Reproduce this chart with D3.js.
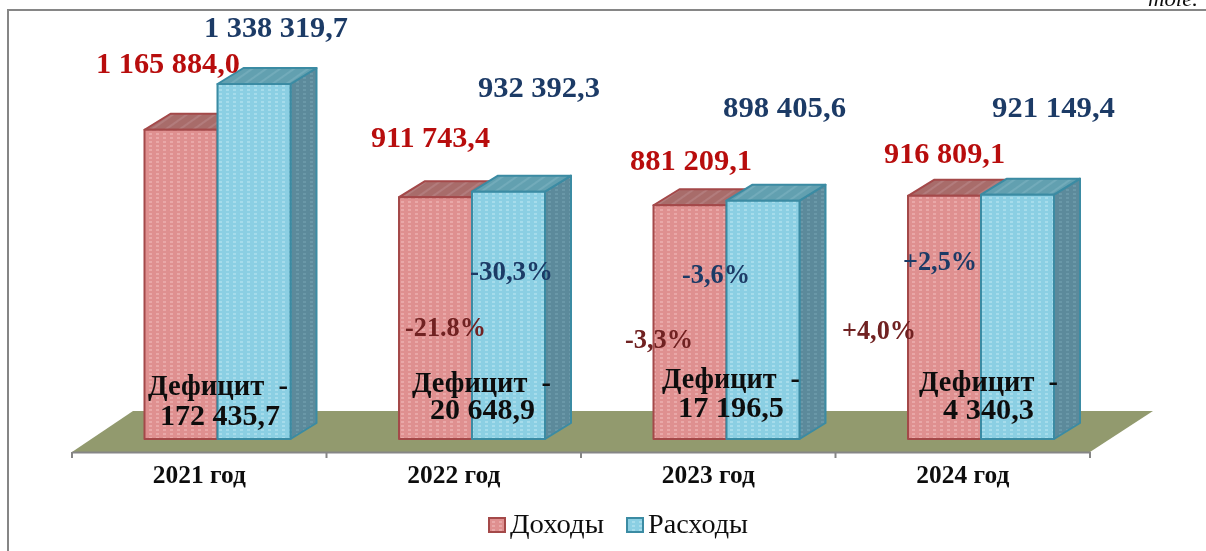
<!DOCTYPE html>
<html>
<head>
<meta charset="utf-8">
<script src="https://cdn.jsdelivr.net/npm/d3@7"></script>
<style>
  html, body { margin: 0; padding: 0; background: #fff; overflow: hidden; }
  svg { display: block; }
  text { font-family: "Liberation Serif", serif; }
</style>
</head>
<body>
<svg id="chart" width="1206" height="551"></svg>
<script>
// data
const categories = ["2021 год", "2022 год", "2023 год", "2024 год"];
const income     = [1165884.0, 911743.4, 881209.1, 916809.1];
const expenses   = [1338319.7, 932392.3, 898405.6, 921149.4];
const deficit    = [172435.7, 20648.9, 17196.5, 4340.3];
const incomeChange  = [null, "-21.8%", "-3,3%", "+4,0%"];
const expenseChange = [null, "-30,3%", "-3,6%", "+2,5%"];
const seriesNames = ["Доходы", "Расходы"];

// label placement, [left, baseline, width] per category
const incomeLabelPos  = [[96, 73, 144], [371, 147, 119], [630, 170, 122], [884, 163, 121]];
const expenseLabelPos = [[204, 37, 144], [478, 97, 122], [723, 117, 123], [992, 117, 123]];
const incomeChangePos  = [null, [405, 336, 81], [625, 348, 68], [842, 339, 74]];
const expenseChangePos = [null, [470, 280, 83], [682, 283, 68], [903, 270, 74]];
const deficitTitlePos = [[148, 395, 140], [412, 392, 139], [662, 388, 138], [919, 391, 139]];
const deficitValuePos = [[160, 425, 120], [430, 419, 105], [678, 417, 106], [943, 419, 91]];

const svg = d3.select("#chart");
const locale = d3.formatLocale({ decimal: ",", thousands: "\u00a0", grouping: [3] });
const fmt = locale.format(",.1f");

const RED = "#b8100f", NAVY = "#1c3a66", MAROON = "#702020", BLACK = "#111";
const axisY = 452, baseY = 439, depthX = 26, depthY = 16, barW = 73, barInset = 72.5;

const x = d3.scaleBand().domain(categories).range([72, 1090]);
const y = d3.scaleLinear().domain([0, 1338319.7]).range([baseY, 84]);

// ── textures ────────────────────────────────────────────────────────────────
const defs = svg.append("defs");
defs.append("filter").attr("id", "soft").attr("filterUnits", "userSpaceOnUse")
  .attr("x", 0).attr("y", 0).attr("width", 1206).attr("height", 551)
  .append("feGaussianBlur").attr("stdDeviation", 0.45);
function dotted(id, base, dot, op) {
  const p = defs.append("pattern").attr("id", id).attr("patternUnits", "userSpaceOnUse").attr("width", 7).attr("height", 4);
  p.append("rect").attr("width", 7).attr("height", 4).attr("fill", base);
  p.append("rect").attr("x", 2).attr("y", 1).attr("width", 3).attr("height", 2).attr("fill", dot).attr("opacity", op);
}
function hatched(id, base, line) {
  const p = defs.append("pattern").attr("id", id).attr("patternUnits", "userSpaceOnUse").attr("width", 8).attr("height", 8).attr("patternTransform", "rotate(-35)");
  p.append("rect").attr("width", 8).attr("height", 8).attr("fill", base);
  p.append("rect").attr("width", 8).attr("height", 2).attr("fill", line).attr("opacity", 0.35);
}
dotted("redFront", "#df9090", "#efb2b2", 0.7);
dotted("blueFront", "#8bcfe3", "#b2e2ee", 0.7);
dotted("blueSide", "#5c8a9b", "#729eae", 0.7);
dotted("redSide", "#96595a", "#aa7474", 0.7);
hatched("redTop", "#a86c6b", "#c49a99");
hatched("blueTop", "#62a0b0", "#8fc0cc");

const styles = [
  { front: "url(#redFront)", side: "url(#redSide)", top: "url(#redTop)", stroke: "#a4484a" },
  { front: "url(#blueFront)", side: "url(#blueSide)", top: "url(#blueTop)", stroke: "#3b8ba3" }
];

const root = svg.append("g").attr("filter", "url(#soft)");

// ── frame ───────────────────────────────────────────────────────────────────
root.append("path").attr("d", "M8,551V10H1206").attr("fill", "none").attr("stroke", "#868686").attr("stroke-width", 2);
root.append("text").attr("x", 1148).attr("y", 6).attr("font-size", 21).attr("font-style", "italic").attr("fill", BLACK)
  .attr("textLength", 50).attr("lengthAdjust", "spacingAndGlyphs").text("mole.");

// ── floor + axis ────────────────────────────────────────────────────────────
const [x0, x1] = x.range();
root.append("polygon")
  .attr("points", [[x0, axisY], [x0 + 61, axisY - 41], [x1 + 63, axisY - 41], [x1, axisY]].join(" "))
  .attr("fill", "#929a6e");

const axis = root.append("g").attr("transform", `translate(0,${axisY})`)
  .call(d3.axisBottom(x).tickSize(0).tickPadding(13));
axis.select(".domain").attr("stroke", "#868686").attr("stroke-width", 2);
axis.selectAll("text").attr("font-family", "Liberation Serif").attr("font-size", 25).attr("font-weight", "bold").attr("fill", BLACK)
  .attr("textLength", 93).attr("lengthAdjust", "spacingAndGlyphs");
axis.selectAll("line.edge").data(categories.map(c => x(c)).concat(x1)).join("line").attr("class", "edge")
  .attr("x1", d => d).attr("x2", d => d).attr("y1", 0).attr("y2", 6)
  .attr("stroke", "#868686").attr("stroke-width", 2);

// ── bars ────────────────────────────────────────────────────────────────────
function drawBar(left, value, s) {
  const top = y(value), right = left + barW;
  const g = root.append("g").attr("stroke", s.stroke).attr("stroke-width", 2).attr("stroke-linejoin", "round");
  g.append("polygon").attr("fill", s.side)
    .attr("points", [[right, top], [right + depthX, top - depthY], [right + depthX, baseY - depthY], [right, baseY]].join(" "));
  g.append("polygon").attr("fill", s.top)
    .attr("points", [[left, top], [left + depthX, top - depthY], [right + depthX, top - depthY], [right, top]].join(" "));
  g.append("rect").attr("x", left).attr("y", top).attr("width", barW).attr("height", baseY - top).attr("fill", s.front);
}
categories.forEach((c, i) => {
  const left = x(c) + barInset;
  drawBar(left, income[i], styles[0]);
  drawBar(left + barW, expenses[i], styles[1]);
});

// ── labels ──────────────────────────────────────────────────────────────────
function label(pos, str, color, size) {
  if (!pos) return;
  root.append("text").attr("x", pos[0]).attr("y", pos[1]).attr("font-size", size).attr("font-weight", "bold")
    .attr("fill", color).attr("textLength", pos[2]).attr("lengthAdjust", "spacingAndGlyphs")
    .style("white-space", "pre").text(str);
}
categories.forEach((c, i) => {
  label(incomeLabelPos[i], fmt(income[i]), RED, 30);
  label(expenseLabelPos[i], fmt(expenses[i]), NAVY, 30);
  label(incomeChangePos[i], incomeChange[i], MAROON, 27);
  label(expenseChangePos[i], expenseChange[i], NAVY, 27);
  label(deficitTitlePos[i], "Дефицит  -", BLACK, 29);
  label(deficitValuePos[i], fmt(deficit[i]), BLACK, 30);
});

// ── legend ──────────────────────────────────────────────────────────────────
const legendX = [489, 627];
seriesNames.forEach((name, i) => {
  root.append("rect").attr("x", legendX[i]).attr("y", 518).attr("width", 16).attr("height", 14)
    .attr("fill", styles[i].front).attr("stroke", styles[i].stroke).attr("stroke-width", 2);
  root.append("text").attr("x", legendX[i] + 21).attr("y", 533).attr("font-size", 27).attr("fill", BLACK)
    .attr("textLength", i ? 100 : 94).attr("lengthAdjust", "spacingAndGlyphs").text(name);
});
</script>
</body>
</html>
